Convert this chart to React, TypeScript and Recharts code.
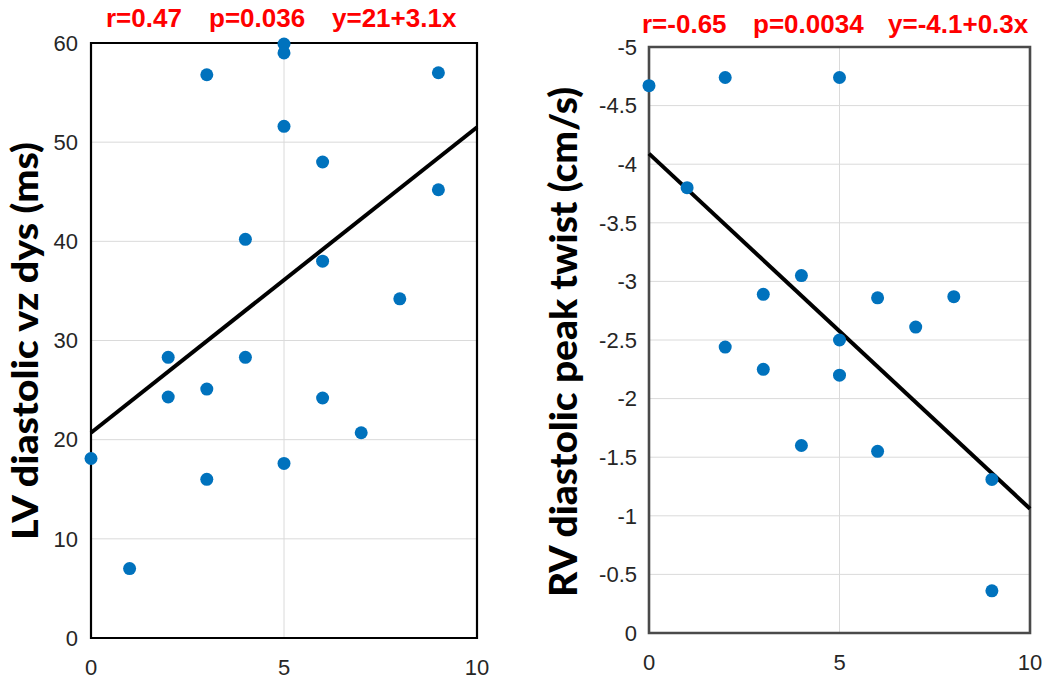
import React from 'react';
import { ScatterChart, Scatter, XAxis, YAxis, CartesianGrid, ReferenceLine, ReferenceArea } from 'recharts';

const lvX = [3, 5, 5, 9, 5, 6, 9, 4, 6, 8, 2, 4, 2, 3, 6, 7, 0, 5, 3, 1];
const lvY = [56.8, 59.9, 59.0, 57.0, 51.6, 48.0, 45.2, 40.2, 38.0, 34.2, 28.3, 28.3, 24.3, 25.1, 24.2, 20.7, 18.1, 17.6, 16.0, 7.0];
const rvX = [0, 2, 5, 1, 4, 3, 6, 8, 7, 5, 2, 3, 5, 4, 6, 9, 9];
const rvY = [-4.67, -4.74, -4.74, -3.8, -3.05, -2.89, -2.86, -2.87, -2.61, -2.5, -2.44, -2.25, -2.2, -1.6, -1.55, -1.31, -0.36];

const xTicks = [0, 5, 10];
const lvYTicks = [0, 10, 20, 30, 40, 50, 60];
const rvYTicks = [-5, -4.5, -4, -3.5, -3, -2.5, -2, -1.5, -1, -0.5, 0];

const lvFitX = [0, 10];
const lvFitY = [20.7, 51.5];
const rvFitX = [0, 10];
const rvFitY = [-4.09, -1.06];

const lvStats = ['r=0.47', 'p=0.036', 'y=21+3.1x'];
const rvStats = ['r=-0.65', 'p=0.0034', 'y=-4.1+0.3x'];
const lvTitle = 'LV diastolic vz dys (ms)';
const rvTitle = 'RV diastolic peak twist (cm/s)';

const lvData = lvX.map((x, i) => ({ x, y: lvY[i] }));
const rvData = rvX.map((x, i) => ({ x, y: rvY[i] }));
const lvFit = lvFitX.map((x, i) => ({ x, y: lvFitY[i] }));
const rvFit = rvFitX.map((x, i) => ({ x, y: rvFitY[i] }));

const TICK_FONT = { fontFamily: '"Liberation Sans", Arial, sans-serif', fontSize: 22, fill: '#262626' };

const Dot = (p: any) => <circle cx={p.cx} cy={p.cy} r={6.5} fill="#0072BD" />;

export default function App() {
  return (
    <div style={{ position: 'absolute', left: 0, top: 0, width: 1050, height: 683, background: '#fff' }}>
      <div style={{ position: 'absolute', left: 0, top: 0 }}>
        <ScatterChart width={525} height={683} margin={{ top: 43, right: 48, bottom: 15, left: 31 }}>
          <CartesianGrid stroke="#dadada" strokeWidth={1} />
          <XAxis
            type="number"
            dataKey="x"
            domain={[0, 10]}
            ticks={xTicks}
            height={30}
            tickLine={false}
            axisLine={false}
            tickSize={0}
            tickMargin={21}
            tick={TICK_FONT}
          />
          <YAxis
            type="number"
            dataKey="y"
            domain={[0, 60]}
            ticks={lvYTicks}
            width={60}
            tickLine={false}
            axisLine={false}
            tickSize={0}
            tickMargin={13}
            tick={TICK_FONT}
          />
          <ReferenceArea x1={0} x2={10} y1={0} y2={60} fill="none" stroke="#000" strokeWidth={2.2} fillOpacity={0} strokeOpacity={1} />
          <ReferenceLine segment={lvFit} stroke="#000" strokeWidth={4} />
          <Scatter data={lvData} shape={Dot} isAnimationActive={false} />
        </ScatterChart>
      </div>
      <div style={{ position: 'absolute', left: 525, top: 0 }}>
        <ScatterChart width={525} height={683} margin={{ top: 47, right: 20, bottom: 20, left: 64 }}>
          <CartesianGrid stroke="#dadada" strokeWidth={1} />
          <XAxis
            type="number"
            dataKey="x"
            domain={[0, 10]}
            ticks={xTicks}
            height={30}
            tickLine={false}
            axisLine={false}
            tickSize={0}
            tickMargin={21}
            tick={TICK_FONT}
          />
          <YAxis
            type="number"
            dataKey="y"
            domain={[-5, 0]}
            reversed
            ticks={rvYTicks}
            width={60}
            tickLine={false}
            axisLine={false}
            tickSize={0}
            tickMargin={12}
            tick={TICK_FONT}
          />
          <ReferenceArea x1={0} x2={10} y1={-5} y2={0} fill="none" stroke="#4a4a4a" strokeWidth={2.6} fillOpacity={0} strokeOpacity={1} />
          <ReferenceLine segment={rvFit} stroke="#000" strokeWidth={4} />
          <Scatter data={rvData} shape={Dot} isAnimationActive={false} />
        </ScatterChart>
      </div>
      <svg width={1050} height={683} style={{ position: 'absolute', left: 0, top: 0, pointerEvents: 'none' }}>
        <g fontFamily='"Liberation Sans", Arial, sans-serif' fontWeight={700} fontSize={26} fill="#ff0000">
          <text x={106} y={27}>{lvStats[0]}</text>
          <text x={209} y={27}>{lvStats[1]}</text>
          <text x={332} y={27}>{lvStats[2]}</text>
          <text x={642} y={33}>{rvStats[0]}</text>
          <text x={753} y={33}>{rvStats[1]}</text>
          <text x={888} y={33}>{rvStats[2]}</text>
        </g>
        <text
          transform="translate(38,341) rotate(-90)"
          textAnchor="middle"
          fontFamily="Lato, sans-serif"
          fontWeight={900}
          fontSize={36}
          textLength={398}
          lengthAdjust="spacingAndGlyphs"
          fill="#000"
        >
          {lvTitle}
        </text>
        <text
          transform="translate(577,342) rotate(-90)"
          textAnchor="middle"
          fontFamily="Lato, sans-serif"
          fontWeight={900}
          fontSize={38}
          textLength={510}
          lengthAdjust="spacingAndGlyphs"
          fill="#000"
        >
          {rvTitle}
        </text>
      </svg>
    </div>
  );
}
